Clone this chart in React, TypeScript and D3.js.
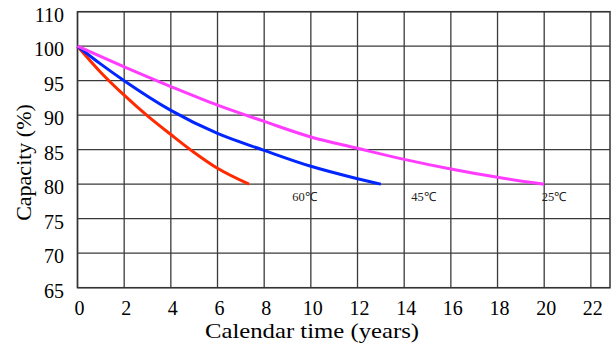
import React from "react";
import * as d3 from "d3";

const years60 = [0, 1, 2, 3, 4, 5, 6, 7.35];
const cap60 = [100, 96.2, 92.9, 89.9, 87.2, 84.6, 82.3, 80];
const years45 = [0, 1, 2, 4, 6, 8, 10, 12, 13];
const cap45 = [100, 97.4, 95, 90.7, 87.35, 84.9, 82.6, 80.8, 80];
const years25 = [0, 2, 4, 6, 8, 10, 12, 14, 16, 18, 20];
const cap25 = [100, 97.0, 94.15, 91.45, 89.1, 86.85, 85.2, 83.6, 82.2, 81.0, 80];

const seriesNames = ["60℃", "45℃", "25℃"];
const seriesColors = ["#ff2a00", "#0026ff", "#ff3cff"];
const labelX = [9.2, 14.3, 19.9];
const labelY = 77.6;

const xTicks = [0, 2, 4, 6, 8, 10, 12, 14, 16, 18, 20, 22];
const yTicks = [65, 70, 75, 80, 85, 90, 95, 100, 105];
const yTickLabels = ["65", "70", "75", "80", "85", "90", "95", "100", "110"];

const W = 616;
const H = 347;
const left = 77.5;
const right = 610;
const top = 11.7;
const bottom = 287.7;

export default function App() {
  const x = d3.scaleLinear().domain([0, 22.82]).range([left, right]);
  const y = d3.scaleLinear().domain([65, 105]).range([bottom, top]);
  const line = d3
    .line<[number, number]>()
    .x((d) => x(d[0]))
    .y((d) => y(d[1]))
    .curve(d3.curveMonotoneX);
  const series = [
    years60.map((v, i) => [v, cap60[i]] as [number, number]),
    years45.map((v, i) => [v, cap45[i]] as [number, number]),
    years25.map((v, i) => [v, cap25[i]] as [number, number]),
  ];
  const font = "'Liberation Serif', 'Times New Roman', serif";
  return (
    <svg
      width={W}
      height={H}
      style={{ position: "absolute", left: 0, top: 0, background: "#fff" }}
    >
      <rect x={0} y={0} width={W} height={H} fill="#fff" />
      {xTicks.map((t) => (
        <line
          key={"vx" + t}
          x1={x(t)}
          x2={x(t)}
          y1={top}
          y2={bottom}
          stroke="#3a3a3a"
          strokeWidth={1.3}
        />
      ))}
      {yTicks.map((t) => (
        <line
          key={"hy" + t}
          x1={left}
          x2={right}
          y1={y(t)}
          y2={y(t)}
          stroke="#3a3a3a"
          strokeWidth={1.3}
        />
      ))}
      <rect
        x={left}
        y={top}
        width={right - left}
        height={bottom - top}
        fill="none"
        stroke="#333"
        strokeWidth={1.5}
      />
      {series.map((s, i) => (
        <path
          key={"s" + i}
          d={line(s) || ""}
          fill="none"
          stroke={seriesColors[i]}
          strokeWidth={3}
        />
      ))}
      {seriesNames.map((n, i) => (
        <text
          key={"l" + i}
          x={x(labelX[i])}
          y={y(labelY)}
          fontFamily={font}
          fontSize={12.5}
          fill="#222"
        >
          {n}
        </text>
      ))}
      {xTicks.map((t) => (
        <text
          key={"xt" + t}
          x={x(t) + 2}
          y={315}
          textAnchor="middle"
          fontFamily={font}
          fontSize={20}
          fill="#000"
        >
          {t}
        </text>
      ))}
      {yTicks.map((t, i) => (
        <text
          key={"yt" + t}
          x={64}
          y={y(t) + 10}
          textAnchor="end"
          fontFamily={font}
          fontSize={20}
          fill="#000"
        >
          {yTickLabels[i]}
        </text>
      ))}
      <text
        x={205}
        y={338}
        fontFamily={font}
        fontSize={21.5}
        textLength={214}
        lengthAdjust="spacingAndGlyphs"
        fill="#000"
      >
        Calendar time (years)
      </text>
      <text
        transform={`translate(30.5,162.5) rotate(-90)`}
        textAnchor="middle"
        fontFamily={font}
        fontSize={22}
        fill="#000"
      >
        Capacity (%)
      </text>
    </svg>
  );
}
